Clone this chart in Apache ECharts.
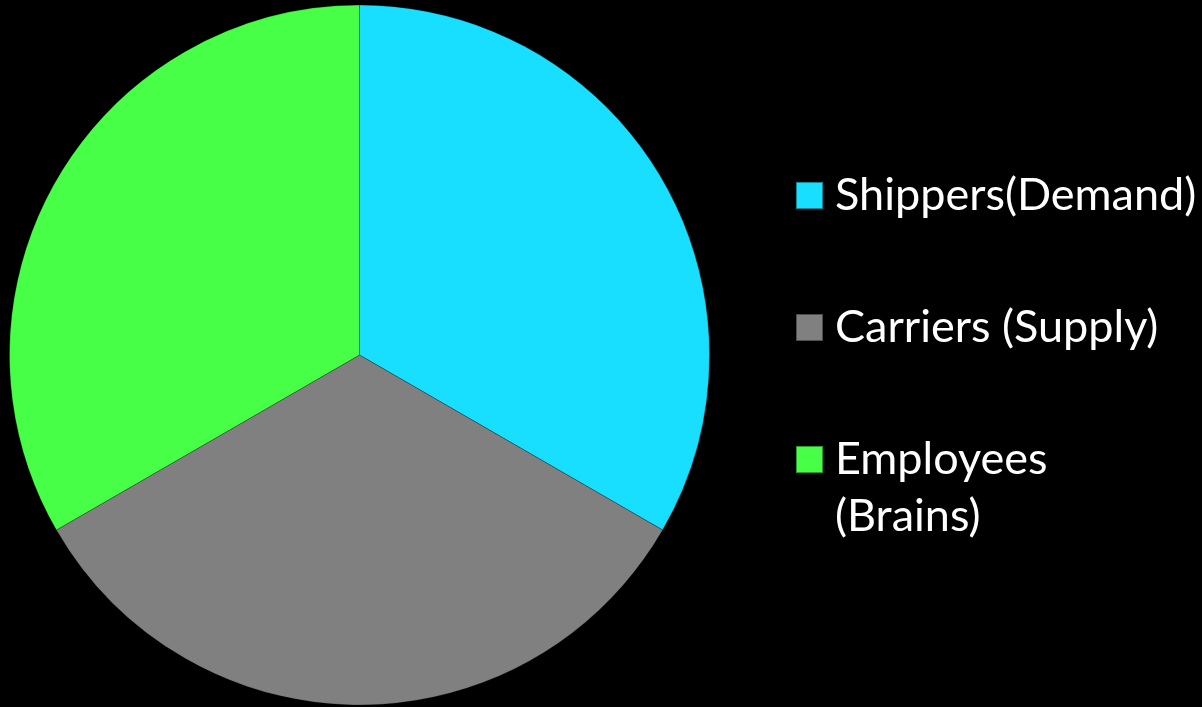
<!DOCTYPE html>
<html>
<head>
<meta charset="utf-8">
<script src="https://cdn.jsdelivr.net/npm/echarts@6/dist/echarts.min.js"></script>
<style>
  html, body { margin: 0; padding: 0; background: #000; }
  #chart { width: 1202px; height: 707px; }
</style>
</head>
<body>
<div id="chart"></div>
<script>
const names = ['Shippers(Demand)', 'Carriers (Supply)', 'Employees (Brains)']
const values = [1, 1, 1]
const colors = ['#18DEFF', '#808080', '#47FF47']

const chart = echarts.init(document.getElementById('chart'))

const legendText = {
  color: '#fff',
  fontFamily: 'Lato',
  fontSize: 45,
  lineHeight: 57,
  padding: [0, 0, 0, 7]
}

chart.setOption({
  backgroundColor: '#000',
  animation: false,
  legend: [
    {
      orient: 'vertical',
      left: 795,
      top: 167,
      padding: 0,
      itemWidth: 27,
      itemHeight: 27,
      itemGap: 75,
      icon: 'rect',
      selectedMode: false,
      data: names.slice(0, 2),
      textStyle: legendText
    },
    {
      orient: 'vertical',
      left: 795,
      top: 374,
      padding: 0,
      itemWidth: 27,
      itemHeight: 27,
      icon: 'rect',
      selectedMode: false,
      data: names.slice(2),
      // wrap onto two lines; empty first line keeps the square beside "Employees"
      formatter: function (n) { return '\n' + n.replace(' ', '\n') },
      textStyle: legendText
    }
  ],
  series: [{
    type: 'pie',
    center: [359.5, 355],
    radius: 350,
    startAngle: 90,
    clockwise: true,
    label: { show: false },
    labelLine: { show: false },
    itemStyle: { borderColor: 'rgba(0,0,0,0.4)', borderWidth: 0.6 },
    emphasis: { disabled: true },
    data: names.map((n, i) => ({
      name: n,
      value: values[i],
      itemStyle: { color: colors[i] }
    }))
  }]
})
</script>
</body>
</html>
